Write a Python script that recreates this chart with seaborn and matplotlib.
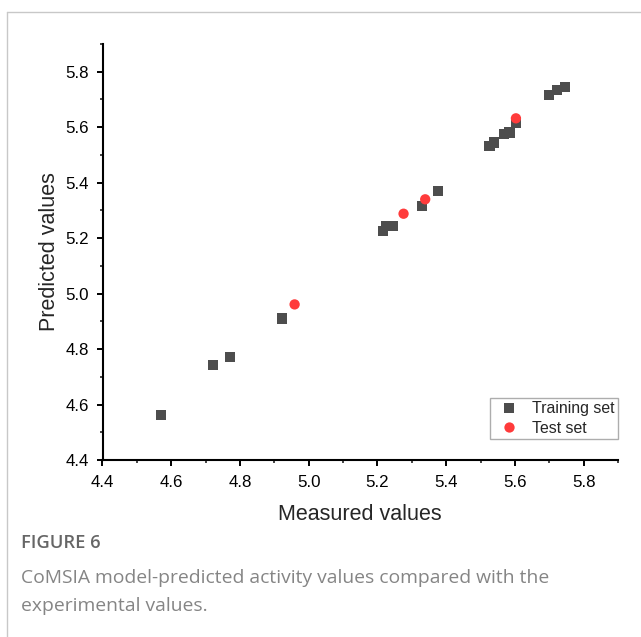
import matplotlib
matplotlib.use("Agg")
import matplotlib.pyplot as plt
import seaborn as sns
import pandas as pd
from matplotlib.lines import Line2D
from matplotlib.ticker import MultipleLocator

train_measured = [4.570, 4.722, 4.771, 4.922, 5.217, 5.226, 5.246, 5.330, 5.377,
                  5.526, 5.540, 5.569, 5.584, 5.603, 5.700, 5.723, 5.746]
train_predicted = [4.563, 4.743, 4.772, 4.910, 5.225, 5.243, 5.243, 5.316, 5.370,
                   5.533, 5.545, 5.575, 5.581, 5.617, 5.717, 5.734, 5.746]
test_measured = [4.959, 5.276, 5.339, 5.603]
test_predicted = [4.961, 5.288, 5.340, 5.632]
set_names = ["Training set", "Test set"]
x_ticks = [4.4, 4.6, 4.8, 5.0, 5.2, 5.4, 5.6, 5.8]
y_ticks = [4.4, 4.6, 4.8, 5.0, 5.2, 5.4, 5.6, 5.8]

df = pd.DataFrame({
    "Measured values": train_measured + test_measured,
    "Predicted values": train_predicted + test_predicted,
    "Set": [set_names[0]] * len(train_measured) + [set_names[1]] * len(test_measured),
})

sns.set_style("ticks")
plt.rcParams["font.family"] = ["Liberation Sans", "DejaVu Sans"]

fig = plt.figure(figsize=(6.41, 6.37), dpi=100)
ax = fig.add_axes([102.5 / 641, 177 / 637, (618 - 102.5) / 641, (460 - 44) / 637])

sns.scatterplot(
    data=df, x="Measured values", y="Predicted values",
    hue="Set", style="Set",
    palette={set_names[0]: "#4d4d4d", set_names[1]: "#ff3b3b"},
    markers={set_names[0]: "s", set_names[1]: "o"},
    s=55, linewidth=0, ax=ax, legend=True,
)

ax.set_xlim(4.4, 5.9)
ax.set_ylim(4.4, 5.9)
ax.set_xticks(x_ticks)
ax.set_yticks(y_ticks)
ax.set_xticklabels([f"{v:.1f}" for v in x_ticks])
ax.set_yticklabels([f"{v:.1f}" for v in y_ticks])
ax.xaxis.set_minor_locator(MultipleLocator(0.1))
ax.yaxis.set_minor_locator(MultipleLocator(0.1))
ax.tick_params(which="major", direction="out", length=4.3, width=1.4, labelsize=12.2, colors="black")
ax.tick_params(which="minor", direction="out", length=2.5, width=1.2)
ax.tick_params(axis="x", which="major", pad=6.5)
ax.tick_params(axis="y", which="major", pad=5.5)
for sp in ["top", "right"]:
    ax.spines[sp].set_visible(False)
for sp in ["left", "bottom"]:
    ax.spines[sp].set_linewidth(1.5)
    ax.spines[sp].set_color("black")

ax.set_xlabel("Measured values", fontsize=15.5, labelpad=10)
ax.set_ylabel("Predicted values", fontsize=15.5, labelpad=3.5)

handles, labels = ax.get_legend_handles_labels()
leg = ax.legend(handles, labels, loc="lower right", bbox_to_anchor=(1.0, 0.05),
                borderaxespad=0, frameon=True, fancybox=False, edgecolor="#999999",
                fontsize=11.4, handletextpad=0.45, borderpad=0.2, labelspacing=0.3,
                markerscale=1.0)
leg.get_frame().set_linewidth(1.0)

# panel border
fig.add_artist(Line2D([7 / 641, 1.0], [1 - 12 / 637, 1 - 12 / 637], color="#c8c8c8", lw=1.0, transform=fig.transFigure))
fig.add_artist(Line2D([7 / 641, 7 / 641], [0.0, 1 - 12 / 637], color="#c8c8c8", lw=1.0, transform=fig.transFigure))

cap_font = ["Open Sans", "DejaVu Sans"]
fig.text(21 / 641, 1 - 543 / 637, "FIGURE 6", fontsize=13.2, fontweight="semibold",
         color="#666666", family=cap_font, va="center", ha="left")
fig.text(21 / 641, 1 - 578 / 637, "CoMSIA model-predicted activity values compared with the",
         fontsize=13.9, color="#858585", family=cap_font, va="center", ha="left")
fig.text(21 / 641, 1 - 606 / 637, "experimental values.",
         fontsize=13.9, color="#858585", family=cap_font, va="center", ha="left")

fig.savefig("out.png", dpi=100)
